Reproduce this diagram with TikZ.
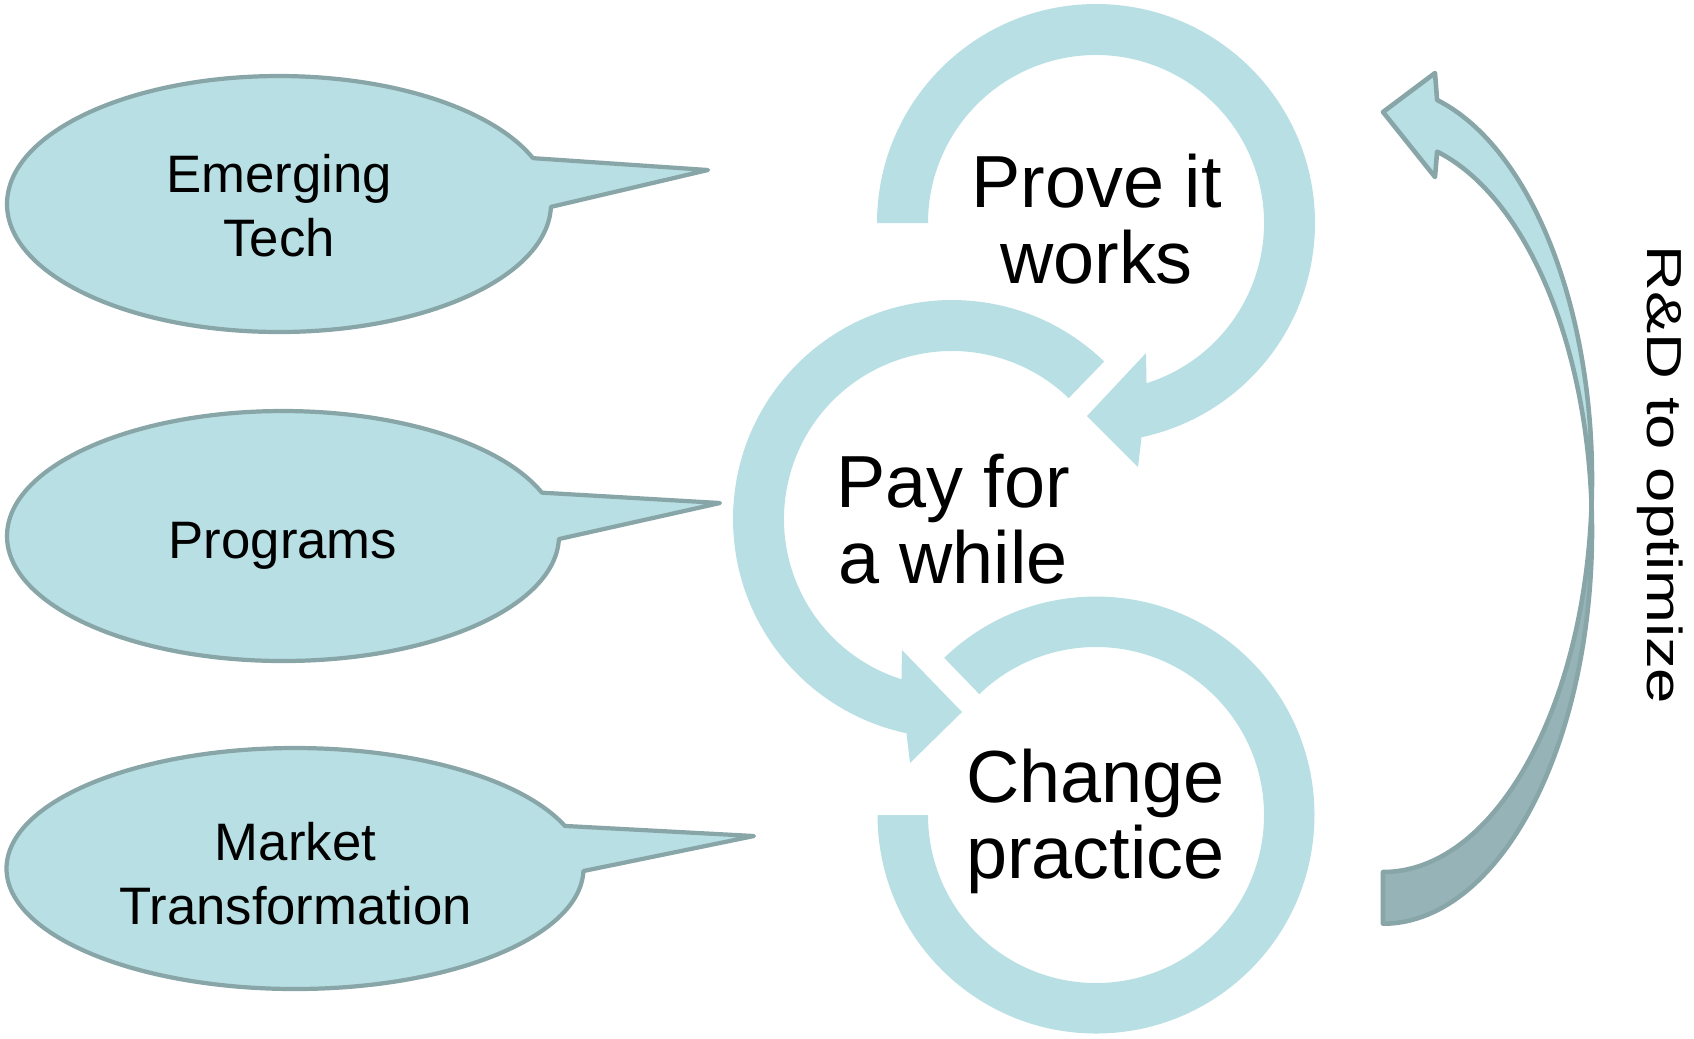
\documentclass[tikz,border=0pt]{standalone}
\usepackage{fontspec}
\setmainfont{Liberation Sans}
\usepackage{xcolor}
\definecolor{Col1}{RGB}{184,223,227}
\definecolor{Col2}{RGB}{136,165,168}
\definecolor{Col3}{RGB}{150,180,183}
\usepackage{tikz}
\usetikzlibrary{calc}
\tikzstyle{Ring}=[fill=Col1,draw=none]
\tikzstyle{Bubble}=[fill=Col1,draw=Col2,line width=1.2pt,line join=round]
\tikzstyle{Ribbon}=[draw=Col2,line width=1.3pt,line join=round]
\tikzstyle{BigText}=[inner sep=0pt,align=center,
font=\fontsize{21}{21.6}\selectfont]
\tikzstyle{BubbleText}=[inner sep=0pt,align=center,
font=\fontsize{15}{18.2}\selectfont]
\tikzstyle{SideText}=[inner sep=0pt,rotate=-90,
font=\fontsize{14}{16}\selectfont]

\begin{document}
\begin{tikzpicture}
        \useasboundingbox (0,0) rectangle (16.94,-10.38);
        \coordinate(T)at(10.96,-2.23);
        \coordinate(M)at(9.52,-5.19);
        \coordinate(B)at(10.96,-8.15);
        \coordinate(e1)at(2.79,-2.04);
        \coordinate(e2)at(2.83,-5.36);
        \coordinate(e3)at(2.95,-8.685);
        \coordinate(rA)at(13.83,-4.793);
        \coordinate(rB)at(13.83,-5.31);
        \coordinate(h1)at(14.35,-0.73);
        \coordinate(h2)at(13.83,-1.12);
        \coordinate(h3)at(14.35,-1.77);
        % rings
        \fill[Ring]($(T)+(180:2.19)$)arc[start angle=180,end angle=-78,radius=2.19]
            --($(T)+(0.42,-2.44)$)--($(T)+(-0.09,-1.93)$)--($(T)+(0.50,-1.30)$)
            --($(T)+(-72.5:1.68)$)arc[start angle=-72.5,end angle=180,radius=1.68]--cycle;
        \fill[Ring]($(M)+(46:2.19)$)arc[start angle=46,end angle=258,radius=2.19]
            --($(M)+(-0.42,-2.44)$)--($(M)+(0.10,-1.93)$)--($(M)+(-0.50,-1.31)$)
            --($(M)+(252.5:1.68)$)arc[start angle=252.5,end angle=46,radius=1.68]--cycle;
        \fill[Ring]($(B)+(134:2.185)$)arc[start angle=134,end angle=-180,radius=2.185]
            --($(B)+(180:1.68)$)arc[start angle=-180,end angle=134,radius=1.68]--cycle;
        % callouts
        \draw[Bubble]($(e1)+(21:2.72 and 1.28)$)--($(e1)+(4.29,0.34)$)
            --($(e1)+(-1.3:2.72 and 1.28)$)
            arc[start angle=-1.3,end angle=-339,x radius=2.72,y radius=1.28]--cycle;
        \draw[Bubble]($(e2)+(20.3:2.76 and 1.25)$)--($(e2)+(4.37,0.33)$)
            --($(e2)+(-1.4:2.76 and 1.25)$)
            arc[start angle=-1.4,end angle=-339.7,x radius=2.76,y radius=1.25]--cycle;
        \draw[Bubble]($(e3)+(20.7:2.885 and 1.205)$)--($(e3)+(4.59,0.325)$)
            --($(e3)+(-1.2:2.885 and 1.205)$)
            arc[start angle=-1.2,end angle=-339.3,x radius=2.885,y radius=1.205]--cycle;
        % curved arrow
        \draw[Ribbon,fill=Col3]($(rB)+(3.77:2.09 and 3.927)$)
            arc[start angle=3.77,end angle=-90,x radius=2.09,y radius=3.927]
            --($(rA)+(-90:2.09 and 3.927)$)
            arc[start angle=-90,end angle=-3.77,x radius=2.09,y radius=3.927]--cycle;
        \draw[Ribbon,fill=Col1]($(rA)+(75:2.09 and 3.927)$)
            arc[start angle=75,end angle=-3.77,x radius=2.09,y radius=3.927]
            arc[start angle=3.77,end angle=75,x radius=2.09,y radius=3.927]
            --(h3)--(h2)--(h1)--cycle;
        % texts (base = last line)
        \node[BigText,anchor=base](prove)at(10.965,-2.83){Prove it\\works};
        \node[BigText,anchor=base](pay)at(9.53,-5.83){Pay for\\a while};
        \node[BigText,anchor=base](change)at(10.955,-8.78){Change\\practice};
        \node[BubbleText,anchor=base](emerging)at(2.79,-2.565){Emerging\\Tech};
        \node[BubbleText,anchor=base](programs)at(2.83,-5.586){Programs};
        \node[BubbleText,anchor=base](market)at(2.955,-9.24){Market\\Transformation};
        \node[SideText](rd)at(16.6,-4.75){\scalebox{1.29}[1]{R\&D to optimize}};
    \end{tikzpicture}
\end{document}
